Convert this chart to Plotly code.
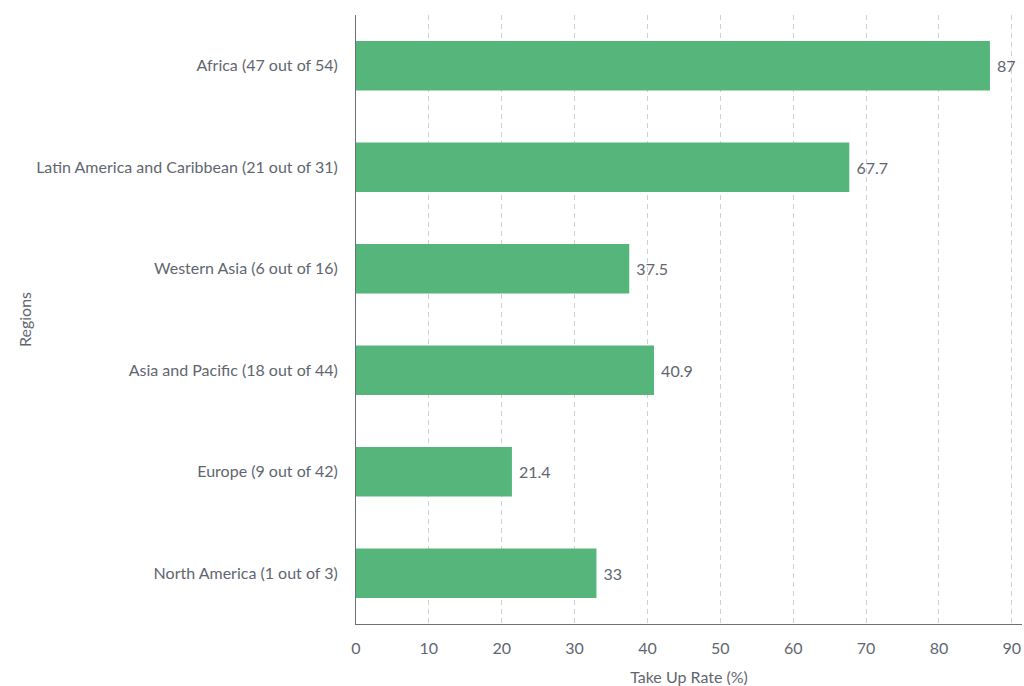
import plotly.graph_objects as go

regions = ["Africa (47 out of 54)", "Latin America and Caribbean (21 out of 31)",
           "Western Asia (6 out of 16)", "Asia and Pacific (18 out of 44)",
           "Europe (9 out of 42)", "North America (1 out of 3)"]
rates = [87, 67.7, 37.5, 40.9, 21.4, 33]
labels = [" 87", " 67.7", " 37.5", " 40.9", " 21.4", " 33"]

font_color = "#5f6670"
fig = go.Figure(go.Bar(
    x=rates, y=regions, orientation="h",
    marker=dict(color="#55b57a", line=dict(width=0)),
    width=0.49,
    text=labels, textposition="outside", cliponaxis=False,
    textfont=dict(family="Lato", size=16, color=font_color),
))
fig.update_layout(
    width=1024, height=686,
    margin=dict(l=356, r=2, t=15, b=60),
    paper_bgcolor="white", plot_bgcolor="white",
    font=dict(family="Lato", size=16, color=font_color),
    showlegend=False,
    xaxis=dict(range=[0, 91.4], tickvals=list(range(0, 100, 10)),
               showgrid=True, gridcolor="#cdd0d4", griddash="5px,4px", gridwidth=1,
               showline=True, linecolor="#6b7075", linewidth=1,
               zeroline=False, ticks="outside", ticklen=10, tickcolor="rgba(0,0,0,0)",
               title=dict(text="Take Up Rate (%)", standoff=16,
                          font=dict(size=16, color=font_color)),
               tickfont=dict(size=16, color=font_color)),
    yaxis=dict(autorange="reversed", showgrid=False, showline=True,
               linecolor="#6b7075", linewidth=1, ticks="", ticklabelstandoff=14,
               title=dict(text="Regions", standoff=0, font=dict(size=16, color=font_color)),
               tickfont=dict(size=16, color=font_color)),
)
fig.write_html("out.html")
